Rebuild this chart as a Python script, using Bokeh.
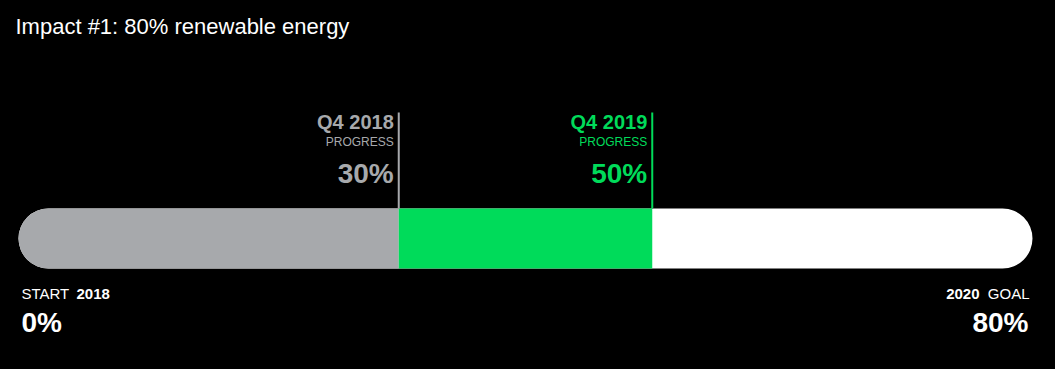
from bokeh.plotting import figure
from bokeh.models import Range1d, Label
from bokeh.core.properties import value
from bokeh.embed import file_html
from bokeh.resources import INLINE

# ---- data ----
title_text = "Impact #1: 80% renewable energy"
start_value = 0
goal_value = 80
start_label = ["START", "2018"]
goal_label = ["2020", "GOAL"]
milestone_names = ["Q4 2018", "Q4 2019"]
milestone_values = [30, 50]
milestone_sub = ["PROGRESS", "PROGRESS"]
milestone_colors = ["#A7A9AC", "#00DB5A"]
bar_rest_color = "#FFFFFF"

# ---- layout ----
W, H = 1055, 369
FONT_NAME = "Liberation Sans"
FONT = value(FONT_NAME)
px_per_unit = 12.675
left_px = 18
x0 = start_value - left_px / px_per_unit
x1 = x0 + W / px_per_unit

p = figure(width=W, height=H, x_range=Range1d(x0, x1), y_range=Range1d(H, 0),
           output_backend="svg", toolbar_location=None, min_border=0,
           x_axis_type=None, y_axis_type=None,
           background_fill_color="black", border_fill_color="black",
           outline_line_color=None)
p.grid.visible = False

bar_top, bar_bottom = 208, 268

# white remainder pill (full bar)
p.quad(left=[start_value], right=[goal_value], top=[bar_top], bottom=[bar_bottom],
       fill_color=bar_rest_color, line_color=None, border_radius=30)
# gray first segment (rounded left)
p.quad(left=[start_value], right=[milestone_values[0]], top=[bar_top], bottom=[bar_bottom],
       fill_color=milestone_colors[0], line_color=None, border_radius=(30, 0, 0, 30))
# green progress segment
p.quad(left=[milestone_values[0]], right=[milestone_values[1]], top=[bar_top], bottom=[bar_bottom],
       fill_color=milestone_colors[1], line_color=None)

# milestone lines
p.segment(x0=milestone_values, y0=[112, 112], x1=milestone_values, y1=[bar_top, bar_top],
          line_color=milestone_colors, line_width=2)

pct = [f"{v}%" for v in milestone_values]
common = dict(text_font=FONT, text_align="right", text_baseline="alphabetic", x_offset=-5)
p.text(x=milestone_values, y=[121, 121], text=milestone_names, text_color=milestone_colors,
       text_font_size="20px", text_font_style="bold", **common)
p.text(x=milestone_values, y=[141, 141], text=milestone_sub, text_color=milestone_colors,
       text_font_size="12px", **common)
p.text(x=milestone_values, y=[173, 173], text=pct, text_color=milestone_colors,
       text_font_size="28px", text_font_style="bold", **common)

# start labels
p.text(x=[start_value], y=[293], text=[start_label[0]], text_color="white", text_font=FONT,
       text_font_size="15px", x_offset=3, text_baseline="alphabetic")
p.text(x=[start_value], y=[293], text=[start_label[1]], text_color="white", text_font=FONT,
       text_font_size="15px", text_font_style="bold", x_offset=58, text_baseline="alphabetic")
p.text(x=[start_value], y=[322], text=[f"{start_value}%"], text_color="white", text_font=FONT,
       text_font_size="28px", text_font_style="bold", x_offset=3, text_baseline="alphabetic")

# goal labels
p.text(x=[goal_value], y=[293], text=[goal_label[1]], text_color="white", text_font=FONT,
       text_font_size="15px", x_offset=-3, text_align="right", text_baseline="alphabetic")
p.text(x=[goal_value], y=[293], text=[goal_label[0]], text_color="white", text_font=FONT,
       text_font_size="15px", text_font_style="bold", x_offset=-53, text_align="right",
       text_baseline="alphabetic")
p.text(x=[goal_value], y=[322], text=[f"{goal_value}%"], text_color="white", text_font=FONT,
       text_font_size="28px", text_font_style="bold", x_offset=-4, text_align="right",
       text_baseline="alphabetic")

# title
p.add_layout(Label(x=15, y=26, x_units="screen", y_units="data", text=title_text,
                   text_color="white", text_font=FONT_NAME, text_font_size="22px",
                   text_baseline="alphabetic"))

html = file_html(p, INLINE)
html = html.replace("<head>", "<head><style>html,body{background:#000;}</style>", 1)
open("out.html", "w").write(html)
